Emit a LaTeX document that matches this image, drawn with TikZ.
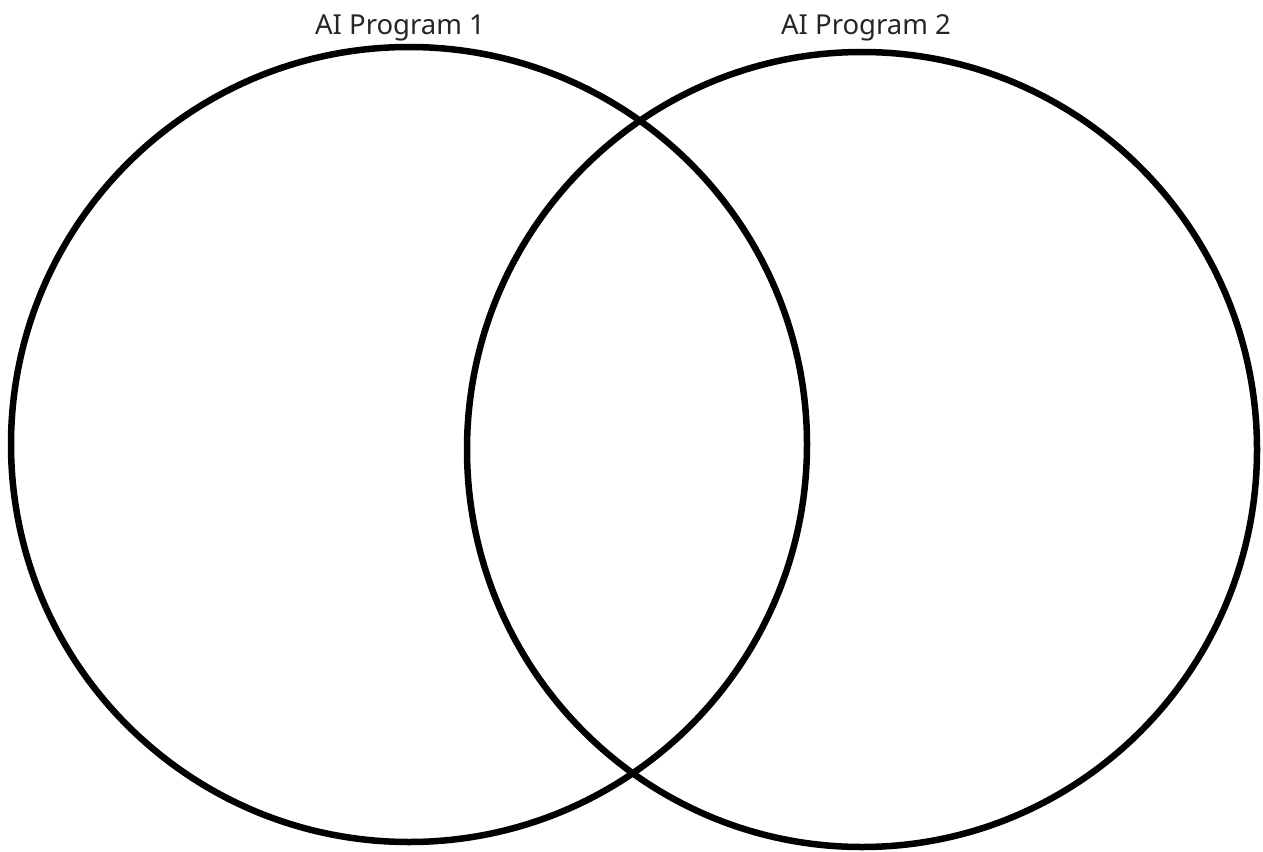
\documentclass[tikz,border=0pt]{standalone}
\usepackage{fontspec}
\setmainfont{Noto Sans}
\begin{document}
\begin{tikzpicture}[x=1pt,y=-1pt,
  ring/.style={draw=black,line width=6.5pt},
  lbl/.style={font=\fontsize{27.5}{30}\selectfont,text=black!85,anchor=base,inner sep=0pt}]
\useasboundingbox[fill=white] (0,0) rectangle (1263,851);
\draw[ring] (409,444.5) ellipse [x radius=398, y radius=397.5];
\draw[ring] (862,449.5) ellipse [x radius=395, y radius=397.5];
\node[lbl] (l1) at (400,35) {AI Program 1};
\node[lbl] (l2) at (866,35) {AI Program 2};
\end{tikzpicture}
\end{document}
